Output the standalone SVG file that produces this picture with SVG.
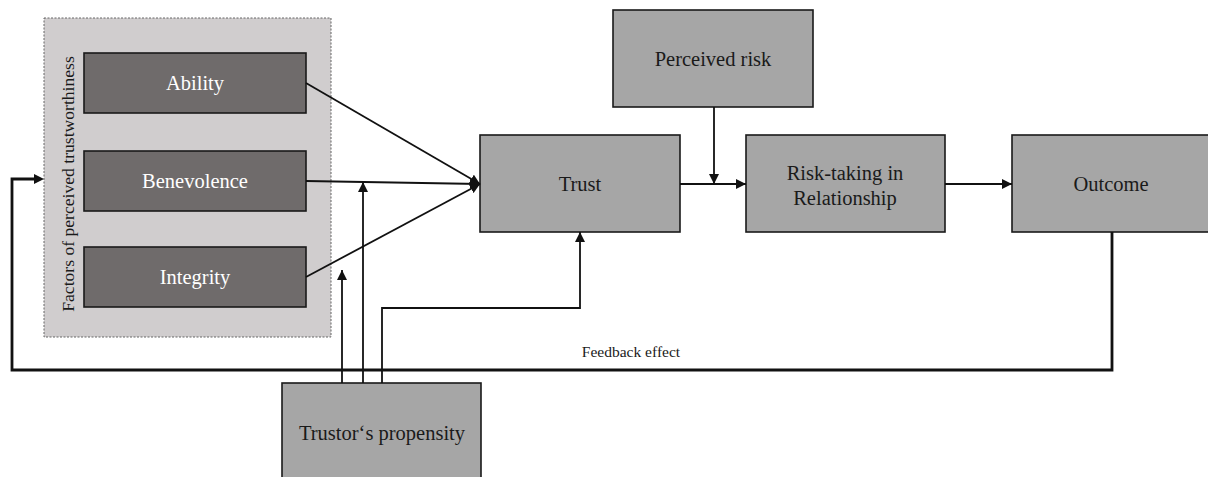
<svg xmlns="http://www.w3.org/2000/svg" width="1208" height="477" viewBox="0 0 1208 477">
  <style>
    .lbl { font-family: "Liberation Serif", "Times New Roman", serif; font-size: 20.5px; text-anchor: middle; fill: #1a1a1a; }
    .light { fill: #ffffff; }
    .dark { fill: #6f6b6b; stroke: #1a1a1a; stroke-width: 1.6; }
    .grey { fill: #a6a6a6; stroke: #1a1a1a; stroke-width: 1.6; }
    .wire { fill: none; stroke: #111; stroke-width: 1.8; }
    .thick { fill: none; stroke: #111; stroke-width: 2.8; }
  </style>
  <defs>
    <marker id="head" viewBox="0 0 10 10" refX="10" refY="5" markerWidth="10" markerHeight="10" markerUnits="userSpaceOnUse" orient="auto">
      <path d="M0,0 L10,5 L0,10 Z" fill="#111"/>
    </marker>
  </defs>

  <rect width="1208" height="477" fill="#ffffff"/>

  <!-- container for the trustworthiness factors -->
  <g id="factors">
    <rect x="44" y="18" width="287" height="319" fill="#d0cdce" stroke="#666" stroke-width="1" stroke-dasharray="2,1.5"/>
    <text class="lbl" font-size="17.6" transform="translate(74,184) rotate(-90)" style="font-size:17.6px">Factors of perceived trustworthiness</text>
  </g>

  <g id="ability">
    <rect class="dark" x="84" y="53" width="222" height="60"/>
    <text class="lbl light" x="195" y="90">Ability</text>
  </g>
  <g id="benevolence">
    <rect class="dark" x="84" y="151" width="222" height="60"/>
    <text class="lbl light" x="195" y="188">Benevolence</text>
  </g>
  <g id="integrity">
    <rect class="dark" x="84" y="247" width="222" height="60"/>
    <text class="lbl light" x="195" y="284">Integrity</text>
  </g>

  <g id="trust">
    <rect class="grey" x="480" y="135" width="200" height="97"/>
    <text class="lbl" x="580" y="191">Trust</text>
  </g>
  <g id="perceived-risk">
    <rect class="grey" x="613" y="10" width="200" height="97"/>
    <text class="lbl" x="713" y="66">Perceived risk</text>
  </g>
  <g id="risk-taking">
    <rect class="grey" x="746" y="135" width="199" height="97"/>
    <text class="lbl" x="845" y="180">Risk-taking in</text>
    <text class="lbl" x="845" y="205">Relationship</text>
  </g>
  <g id="outcome">
    <rect class="grey" x="1012" y="135" width="210" height="97"/>
    <text class="lbl" x="1111" y="191">Outcome</text>
  </g>
  <g id="propensity">
    <rect class="grey" x="282" y="383" width="199" height="110"/>
    <text class="lbl" x="382" y="440">Trustor‘s propensity</text>
  </g>

  <g id="connectors">
    <!-- factors converge on trust -->
    <path class="wire" d="M306,83 L480,184" marker-end="url(#head)"/>
    <path class="wire" d="M306,181 L480,184" marker-end="url(#head)"/>
    <path class="wire" d="M306,277 L480,184" marker-end="url(#head)"/>
    <!-- main chain -->
    <path class="wire" d="M680,184 L746,184" marker-end="url(#head)"/>
    <path class="wire" d="M714,107 L714,184" marker-end="url(#head)"/>
    <path class="wire" d="M945,184 L1012,184" marker-end="url(#head)"/>
    <!-- propensity moderators -->
    <path class="wire" d="M342,383 L342,270" marker-end="url(#head)"/>
    <path class="wire" d="M363,383 L363,182" marker-end="url(#head)"/>
    <path class="wire" d="M382,383 L382,308 L580,308 L580,232" marker-end="url(#head)"/>
    <!-- feedback loop -->
    <path class="thick" d="M1112,232 L1112,370 L12,370 L12,179 L36,179"/>
    <path d="M34,174 L44,179 L34,184 Z" fill="#111"/>
    <text class="lbl" x="631" y="357" style="font-size:15.5px">Feedback effect</text>
  </g>
</svg>
